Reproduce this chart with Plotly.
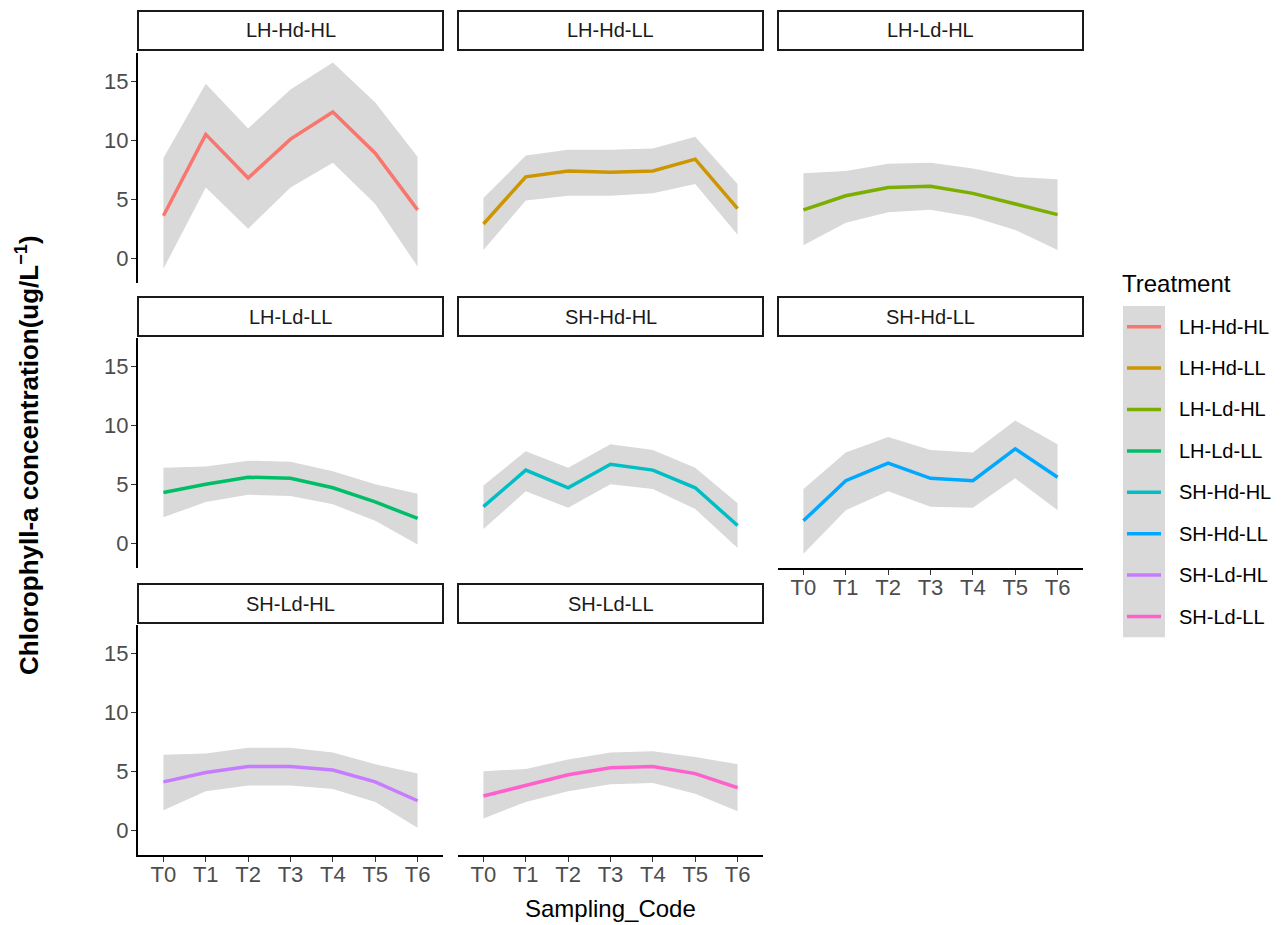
import plotly.graph_objects as go

W, H = 1287, 925

sampling_codes = ["T0", "T1", "T2", "T3", "T4", "T5", "T6"]
treatments = ["LH-Hd-HL", "LH-Hd-LL", "LH-Ld-HL", "LH-Ld-LL",
              "SH-Hd-HL", "SH-Hd-LL", "SH-Ld-HL", "SH-Ld-LL"]
colors = ["#F8766D", "#CD9600", "#7CAE00", "#00BE67",
          "#00BFC4", "#00A9FF", "#C77CFF", "#FF61CC"]

# mean chlorophyll-a per sampling code, with the ribbon bounds
mean_lh_hd_hl = [3.6, 10.5, 6.8, 10.1, 12.4, 8.9, 4.1]
low_lh_hd_hl = [-0.9, 6.0, 2.5, 6.0, 8.1, 4.6, -0.7]
high_lh_hd_hl = [8.5, 14.8, 11.0, 14.3, 16.6, 13.2, 8.6]

mean_lh_hd_ll = [2.9, 6.9, 7.4, 7.3, 7.4, 8.4, 4.2]
low_lh_hd_ll = [0.7, 4.9, 5.3, 5.3, 5.5, 6.3, 2.0]
high_lh_hd_ll = [5.1, 8.7, 9.2, 9.2, 9.3, 10.3, 6.3]

mean_lh_ld_hl = [4.1, 5.3, 6.0, 6.1, 5.5, 4.6, 3.7]
low_lh_ld_hl = [1.1, 3.0, 3.9, 4.1, 3.5, 2.4, 0.7]
high_lh_ld_hl = [7.2, 7.4, 8.0, 8.1, 7.6, 6.9, 6.7]

mean_lh_ld_ll = [4.3, 5.0, 5.6, 5.5, 4.7, 3.5, 2.1]
low_lh_ld_ll = [2.2, 3.5, 4.1, 4.0, 3.3, 1.9, -0.1]
high_lh_ld_ll = [6.4, 6.5, 7.0, 6.9, 6.1, 5.0, 4.2]

mean_sh_hd_hl = [3.1, 6.2, 4.7, 6.7, 6.2, 4.7, 1.5]
low_sh_hd_hl = [1.2, 4.4, 3.0, 5.0, 4.6, 2.9, -0.4]
high_sh_hd_hl = [4.9, 7.8, 6.4, 8.4, 7.9, 6.4, 3.4]

mean_sh_hd_ll = [1.9, 5.3, 6.8, 5.5, 5.3, 8.0, 5.6]
low_sh_hd_ll = [-0.9, 2.8, 4.4, 3.1, 3.0, 5.5, 2.8]
high_sh_hd_ll = [4.6, 7.7, 9.0, 7.9, 7.7, 10.4, 8.4]

mean_sh_ld_hl = [4.1, 4.9, 5.4, 5.4, 5.1, 4.1, 2.5]
low_sh_ld_hl = [1.7, 3.3, 3.8, 3.8, 3.5, 2.4, 0.2]
high_sh_ld_hl = [6.4, 6.5, 7.0, 7.0, 6.6, 5.6, 4.8]

mean_sh_ld_ll = [2.9, 3.8, 4.7, 5.3, 5.4, 4.8, 3.6]
low_sh_ld_ll = [1.0, 2.4, 3.3, 3.9, 4.0, 3.1, 1.6]
high_sh_ld_ll = [5.0, 5.2, 6.0, 6.6, 6.7, 6.2, 5.6]

means = [mean_lh_hd_hl, mean_lh_hd_ll, mean_lh_ld_hl, mean_lh_ld_ll,
         mean_sh_hd_hl, mean_sh_hd_ll, mean_sh_ld_hl, mean_sh_ld_ll]
lows = [low_lh_hd_hl, low_lh_hd_ll, low_lh_ld_hl, low_lh_ld_ll,
        low_sh_hd_hl, low_sh_hd_ll, low_sh_ld_hl, low_sh_ld_ll]
highs = [high_lh_hd_hl, high_lh_hd_ll, high_lh_ld_hl, high_lh_ld_ll,
         high_sh_hd_hl, high_sh_hd_ll, high_sh_ld_hl, high_sh_ld_ll]

y_ticks = [0, 5, 10, 15]

FONT = "Liberation Sans, Arial, Helvetica, sans-serif"
RIBBON = "#D9D9D9"
TICK_GREY = "#4D4D4D"

# facet grid geometry in pixels
col_x = [(138, 443), (458, 763), (778, 1083)]
row_panel = [(53, 283), (338, 568), (625, 855)]
row_strip = [(11, 50), (297, 336), (584, 623)]
bottom_panels = {5, 6, 7}
left_panels = {0, 3, 6}


def px_x(v):
    return v / W


def px_y(v):
    return 1 - v / H


fig = go.Figure()
shapes = []
annotations = []
layout_axes = {}

for i, name in enumerate(treatments):
    r, c = divmod(i, 3)
    k = "" if i == 0 else str(i + 1)
    xa, ya = "x" + k, "y" + k
    x0, x1 = col_x[c]
    yt, yb = row_panel[r]

    fig.add_trace(go.Scatter(
        x=sampling_codes + sampling_codes[::-1],
        y=highs[i] + lows[i][::-1],
        fill="toself", fillcolor=RIBBON, mode="none",
        hoverinfo="skip", showlegend=False, xaxis=xa, yaxis=ya))
    fig.add_trace(go.Scatter(
        x=sampling_codes, y=means[i], mode="lines",
        line=dict(color=colors[i], width=3.5),
        name=name, showlegend=False, xaxis=xa, yaxis=ya))

    show_x = i in bottom_panels
    show_y = i in left_panels
    layout_axes["xaxis" + k] = dict(
        domain=[px_x(x0), px_x(x1)], anchor=ya,
        type="category", categoryorder="array", categoryarray=sampling_codes,
        range=[-0.6, 6.6], showgrid=False, zeroline=False,
        showline=show_x, linecolor="black", linewidth=2.2,
        ticks="outside" if show_x else "", ticklen=5, tickwidth=1.4,
        tickcolor="#333333", showticklabels=show_x, ticklabelstandoff=-7,
        tickfont=dict(family=FONT, size=22, color=TICK_GREY))
    layout_axes["yaxis" + k] = dict(
        domain=[px_y(yb), px_y(yt)], anchor=xa,
        range=[-2.1, 17.4], tickvals=y_ticks, showgrid=False, zeroline=False,
        showline=show_y, linecolor="black", linewidth=2.2,
        ticks="outside" if show_y else "", ticklen=5, tickwidth=1.4,
        tickcolor="#333333", showticklabels=show_y, ticklabelstandoff=-2,
        tickfont=dict(family=FONT, size=22, color=TICK_GREY))

    # facet strip
    st, sb = row_strip[r]
    shapes.append(dict(type="rect", xref="paper", yref="paper",
                       x0=px_x(x0), x1=px_x(x1), y0=px_y(sb), y1=px_y(st),
                       line=dict(color="#1A1A1A", width=2), fillcolor="white",
                       layer="below"))
    annotations.append(dict(xref="paper", yref="paper",
                            x=px_x((x0 + x1) / 2), y=px_y((st + sb) / 2),
                            text=name, showarrow=False,
                            xanchor="center", yanchor="middle",
                            font=dict(family=FONT, size=20, color="#1A1A1A")))

# legend: grey key column, coloured keys, labels
leg_top, leg_step = 306, 41.4
shapes.append(dict(type="rect", xref="paper", yref="paper",
                   x0=px_x(1123), x1=px_x(1165),
                   y0=px_y(leg_top + leg_step * len(treatments)), y1=px_y(leg_top),
                   line=dict(width=0), fillcolor=RIBBON, layer="below"))
for j, name in enumerate(treatments):
    yc = leg_top + leg_step * (j + 0.5)
    shapes.append(dict(type="line", xref="paper", yref="paper",
                       x0=px_x(1127), x1=px_x(1161), y0=px_y(yc), y1=px_y(yc),
                       line=dict(color=colors[j], width=3.5)))
    annotations.append(dict(xref="paper", yref="paper", x=px_x(1177), y=px_y(yc),
                            text=name, showarrow=False,
                            xanchor="left", yanchor="middle",
                            font=dict(family=FONT, size=20, color="black")))
annotations.append(dict(xref="paper", yref="paper", x=px_x(1120), y=px_y(283),
                        text="Treatment", showarrow=False,
                        xanchor="left", yanchor="middle",
                        font=dict(family=FONT, size=24, color="black")))

# axis titles
annotations.append(dict(xref="paper", yref="paper", x=px_x(610), y=px_y(908),
                        text="Sampling_Code", showarrow=False,
                        xanchor="center", yanchor="middle",
                        font=dict(family=FONT, size=24, color="black")))
annotations.append(dict(xref="paper", yref="paper", x=px_x(27), y=px_y(455),
                        text="<b>Chlorophyll-a concentration(ug/L<sup>\u22121</sup>)</b>",
                        textangle=-90, showarrow=False,
                        xanchor="center", yanchor="middle",
                        font=dict(family=FONT, size=26, color="black")))

fig.update_layout(
    width=W, height=H,
    margin=dict(l=0, r=0, t=0, b=0),
    paper_bgcolor="white", plot_bgcolor="white",
    showlegend=False,
    shapes=shapes, annotations=annotations,
    **layout_axes)

fig.write_html("out.html")
